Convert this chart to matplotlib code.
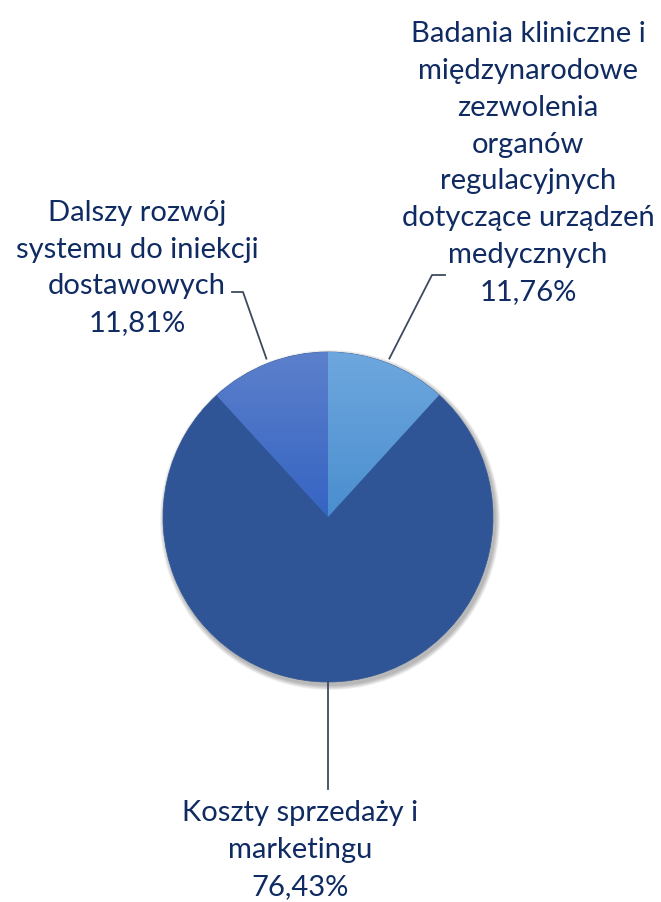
import matplotlib.pyplot as plt
import numpy as np

# dane
labels = ["Badania kliniczne i\nmiędzynarodowe\nzezwolenia\norganów\nregulacyjnych\ndotyczące urządzeń\nmedycznych",
          "Koszty sprzedaży i\nmarketingu",
          "Dalszy rozwój\nsystemu do iniekcji\ndostawowych"]
values = [11.76, 76.43, 11.81]
pct_labels = ["11,76%", "76,43%", "11,81%"]

W, H = 661, 902
fig = plt.figure(figsize=(W / 100, H / 100), dpi=100)
ax = fig.add_axes([0, 0, 1, 1])
ax.set_xlim(0, W)
ax.set_ylim(0, H)
ax.set_aspect("equal")
ax.axis("off")

cx, cy, R = 328, H - 517, 165
txt_color = "#0f2b62"
line_color = "#3e4a5e"
plt.rcParams["font.family"] = ["Lato", "DejaVu Sans"]

# cien pod wykresem
for k in range(6):
    sh = plt.Circle((cx + 2, cy - 3), R + 1 + k * 0.8, color="black", alpha=0.05, lw=0, zorder=0)
    ax.add_patch(sh)

wedges, _ = ax.pie(values, colors=["#5b9bd9", "#2f5597", "#4470c8"], startangle=90,
                   counterclock=False, center=(cx, cy), radius=R, frame=True,
                   wedgeprops=dict(linewidth=0.5, edgecolor="#2f5597"))
ax.set_xlim(0, W)
ax.set_ylim(0, H)
ax.axis("off")

# gradienty na malych wycinkach
grad = np.linspace(0, 1, 256).reshape(-1, 1)
for w, (c_top, c_bot) in zip([wedges[0], wedges[2]],
                             [("#6ea7de", "#4a8ecf"), ("#5c80cb", "#3564c3")]):
    c1 = np.array(plt.matplotlib.colors.to_rgb(c_top))
    c2 = np.array(plt.matplotlib.colors.to_rgb(c_bot))
    img = c1 + (c2 - c1) * grad[..., None]
    img = np.repeat(img, 2, axis=1)
    im = ax.imshow(img, extent=(cx - R, cx + R, cy, cy + R), origin="upper",
                   zorder=w.get_zorder() + 0.1, aspect="auto")
    im.set_clip_path(w)

ax.set_xlim(0, W)
ax.set_ylim(0, H)

# etykiety
fs = 21
ls = 1.52
ax.text(528, H - 163, labels[0] + "\n" + pct_labels[0], ha="center", va="center",
        fontsize=fs, color=txt_color, linespacing=ls)
ax.text(137, H - 268, labels[2] + "\n" + pct_labels[2], ha="center", va="center",
        fontsize=fs, color=txt_color, linespacing=ls)
ax.text(300, H - 850, labels[1] + "\n" + pct_labels[1], ha="center", va="center",
        fontsize=fs, color=txt_color, linespacing=ls)

# linie odniesienia
def mid_pt(i, r):
    w = wedges[i]
    a = np.deg2rad((w.theta1 + w.theta2) / 2)
    return cx + r * np.cos(a), cy + r * np.sin(a)

x0, y0 = mid_pt(0, R * 1.03)
ax.plot([x0, 432, 445], [y0, H - 275, H - 275], color=line_color, lw=1.3)
x2, y2 = mid_pt(2, R * 1.03)
ax.plot([x2, 243, 232], [y2, H - 292, H - 292], color=line_color, lw=1.3)
x1, y1 = mid_pt(1, R * 1.0)
ax.plot([x1, x1], [y1, H - 789], color=line_color, lw=1.3)

plt.savefig("out.png", dpi=100)
